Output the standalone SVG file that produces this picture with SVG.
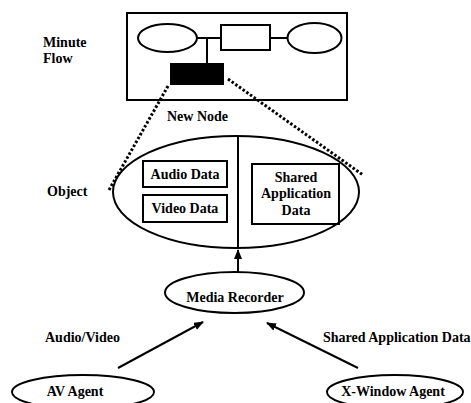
<svg xmlns="http://www.w3.org/2000/svg" width="471" height="403" viewBox="0 0 471 403">
<style>
.s{fill:none;stroke:#000;stroke-width:2}
.t{font-family:"Liberation Serif","Times New Roman",serif;font-weight:bold;font-size:14px;fill:#000}
.m{text-anchor:middle}
.d{fill:none;stroke:#000;stroke-width:3;stroke-dasharray:2.5 2}
</style>
<defs>
<marker id="ah" markerWidth="10" markerHeight="8" refX="9" refY="4" orient="auto" markerUnits="userSpaceOnUse">
<path d="M0,0 L10,4 L0,8 Z" fill="#000"/>
</marker>
</defs>
<rect width="471" height="403" fill="#fff"/>
<g id="minute-flow">
<rect class="s" x="127" y="13" width="220" height="87"/>
<ellipse class="s" cx="167.5" cy="38" rx="29.5" ry="14"/>
<rect class="s" x="221" y="25" width="49" height="25"/>
<ellipse class="s" cx="314.5" cy="38" rx="27" ry="15"/>
<path class="s" d="M197,38 H221 M270,38 H287 M207,38 V63"/>
<rect x="170" y="63" width="54" height="22" fill="#000"/>
<text class="t" x="43" y="47">Minute</text>
<text class="t" x="43" y="63">Flow</text>
<text class="t" x="167" y="121">New Node</text>
</g>
<g id="zoom-lines">
<path class="d" d="M168,86 L109,190"/>
<path class="d" d="M228,79 L363,175"/>
</g>
<g id="object">
<ellipse class="s" cx="236" cy="192" rx="123" ry="56"/>
<path class="s" d="M238,136 V248"/>
<text class="t" x="47" y="196">Object</text>
</g>
<g id="audio-data">
<rect class="s" x="143" y="161" width="84" height="26"/>
<text class="t m" x="185" y="179">Audio Data</text>
</g>
<g id="video-data">
<rect class="s" x="143" y="195" width="84" height="27"/>
<text class="t m" x="185" y="213">Video Data</text>
</g>
<g id="shared-app-data">
<rect class="s" x="252" y="164" width="87" height="60"/>
<text class="t m" x="296" y="182">Shared</text>
<text class="t m" x="296" y="198">Application</text>
<text class="t m" x="296" y="215">Data</text>
</g>
<g id="media-recorder">
<ellipse class="s" cx="234.5" cy="292.5" rx="69.5" ry="20.5"/>
<text class="t m" x="235" y="302">Media Recorder</text>
</g>
<g id="av-agent">
<ellipse class="s" cx="83" cy="392" rx="71" ry="17"/>
<text class="t m" x="75" y="396">AV Agent</text>
</g>
<g id="x-window-agent">
<ellipse class="s" cx="395" cy="392" rx="68" ry="17"/>
<text class="t m" x="393" y="396">X-Window Agent</text>
</g>
<g id="connectors">
<path class="s" d="M238,272 V250" marker-end="url(#ah)"/>
<path class="s" d="M118,368 L203,322" marker-end="url(#ah)"/>
<path class="s" d="M358,368 L267,323" marker-end="url(#ah)"/>
<text class="t" x="45" y="342">Audio/Video</text>
<text class="t" x="323" y="342">Shared Application Data</text>
</g>
</svg>
